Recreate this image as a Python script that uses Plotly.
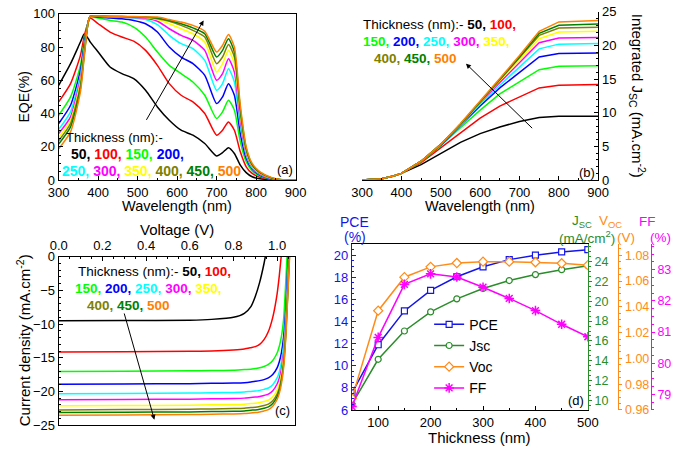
import plotly.graph_objects as go

W, H = 685, 455
FONT = "Liberation Sans, Arial, sans-serif"


def px(x):
    return x / W


def py(y):
    return 1 - y / H


thickness = [50, 100, 150, 200, 250, 300, 350, 400, 450, 500]
colors = ["#000000", "#FF0000", "#00FF00", "#0000FF", "#00FFFF",
          "#FF00FF", "#FFFF00", "#808000", "#008000", "#FF8000"]

# (a) EQE spectra
wl_a = [300, 330, 355, 365, 375, 380, 400, 430, 460, 490, 520, 550, 580, 610,
        640, 670, 700, 715, 730, 745, 760, 775, 790, 810, 840, 870, 900]
eqe_50 = [57, 70, 83, 88, 85, 83, 77, 68, 64, 61, 54, 44, 36, 30, 27, 22, 14.5, 16.5, 19.5, 16, 9, 4.5, 2, 0.8, 0.2, 0, 0]
eqe_100 = [47, 58, 75, 87, 95, 97.5, 94, 89, 86, 83.5, 78, 69, 58, 51, 47, 40, 27, 30, 35, 30, 17, 8, 4, 1.7, 0.4, 0, 0]
eqe_150 = [39, 50, 69, 84, 95.5, 98, 97.5, 96, 95, 92, 86, 77, 69, 64, 59, 51, 37, 41, 48, 42, 23, 11, 5.5, 2.4, 0.6, 0.1, 0]
eqe_200 = [34, 45, 66, 82, 95.5, 98.5, 98, 97.5, 97, 96, 94, 89, 80, 74, 70, 63, 46, 50, 58, 51, 28, 13, 6.6, 2.9, 0.7, 0.1, 0]
eqe_250 = [30.5, 41, 63, 80, 95.5, 98.5, 98.5, 98.2, 98, 97.5, 96.5, 93.5, 87, 82, 79, 72, 54, 58, 67, 59, 33, 15, 7.4, 3.3, 0.9, 0.1, 0]
eqe_300 = [28, 38, 61, 79, 95.5, 98.5, 98.5, 98.3, 98, 97.8, 97.3, 95.5, 91, 87, 84, 78, 60, 64, 73, 65, 36, 16, 8, 3.6, 1, 0.1, 0]
eqe_350 = [25.6, 36, 59, 78, 95.5, 98.5, 98.5, 98.3, 98.2, 98, 97.8, 96.5, 94, 91, 88, 83, 65, 70, 78, 70, 39, 17, 8.5, 4, 1.1, 0.1, 0]
eqe_400 = [23.7, 34, 57, 77, 95.5, 98.5, 98.5, 98.4, 98.3, 98.1, 97.9, 97, 95.5, 93, 90, 86, 70, 74, 81.5, 74, 41, 18, 9, 4.3, 1.2, 0.1, 0]
eqe_450 = [21.7, 32, 55, 76, 95.5, 98.5, 98.5, 98.4, 98.3, 98.2, 98, 97.5, 96, 94, 91.5, 88, 74, 78, 85, 77, 43, 19, 9.5, 4.6, 1.3, 0.1, 0]
eqe_500 = [18.8, 29, 53, 75, 95.5, 98.5, 98.6, 98.5, 98.4, 98.3, 98.1, 98, 96.5, 95, 93, 89.5, 77, 81, 87.5, 80, 45, 20, 10, 5, 1.5, 0.2, 0]
eqe_all = [eqe_50, eqe_100, eqe_150, eqe_200, eqe_250, eqe_300, eqe_350, eqe_400, eqe_450, eqe_500]

# (b) integrated Jsc
wl_b = [300, 350, 380, 400, 450, 500, 550, 600, 650, 700, 750, 800, 850, 900]
ij_50 = [0, 0.2, 0.6, 1.0, 2.3, 4.0, 5.6, 6.9, 7.9, 8.7, 9.3, 9.5, 9.5, 9.5]
ij_100 = [0, 0.2, 0.6, 1.0, 2.6, 4.8, 7.1, 9.2, 11.0, 12.4, 13.7, 14.1, 14.2, 14.2]
ij_150 = [0, 0.2, 0.6, 1.0, 2.7, 5.1, 7.8, 10.4, 12.8, 14.6, 16.4, 16.9, 17.0, 17.0]
ij_200 = [0, 0.2, 0.6, 1.0, 2.8, 5.2, 8.1, 11.0, 13.7, 16.0, 18.3, 18.8, 18.9, 18.9]
ij_250 = [0, 0.2, 0.6, 1.0, 2.8, 5.3, 8.2, 11.3, 14.1, 16.8, 19.5, 20.2, 20.3, 20.3]
ij_300 = [0, 0.2, 0.6, 1.0, 2.8, 5.3, 8.3, 11.5, 14.5, 17.4, 20.4, 21.1, 21.2, 21.2]
ij_350 = [0, 0.2, 0.6, 1.0, 2.8, 5.3, 8.3, 11.6, 14.8, 17.8, 21.0, 22.0, 22.1, 22.1]
ij_400 = [0, 0.2, 0.6, 1.0, 2.8, 5.3, 8.3, 11.6, 14.9, 18.1, 21.5, 22.6, 22.7, 22.7]
ij_450 = [0, 0.2, 0.6, 1.0, 2.8, 5.3, 8.3, 11.7, 15.0, 18.3, 21.8, 23.0, 23.1, 23.2]
ij_500 = [0, 0.2, 0.6, 1.0, 2.8, 5.3, 8.4, 11.7, 15.1, 18.5, 22.1, 23.5, 23.6, 23.7]
ij_all = [ij_50, ij_100, ij_150, ij_200, ij_250, ij_300, ij_350, ij_400, ij_450, ij_500]

# (c) J-V curves
volt = [0, 0.3, 0.6, 0.7, 0.8, 0.85, 0.88, 0.9, 0.92, 0.94, 0.96, 0.98,
        1.0, 1.01, 1.02, 1.03, 1.04, 1.05, 1.06]
jv_50 = [-9.5, -9.48, -9.42, -9.3, -9.0, -8.4, -7.4, -5.9, -3.8, -1.0, 2.5, None, None, None, None, None, None, None, None]
jv_100 = [-14.15, -14.12, -14.05, -14.0, -13.85, -13.7, -13.5, -13.35, -13.0, -12.3, -11.1, -9.0, -5.5, -2.8, 0.5, None, None, None, None]
jv_150 = [-17.05, -17.0, -16.95, -16.9, -16.85, -16.75, -16.7, -16.6, -16.5, -16.3, -16.0, -15.4, -14.3, -13.3, -11.8, -9.2, -3.5, 3.0, None]
jv_200 = [-18.95, -18.9, -18.85, -18.8, -18.75, -18.7, -18.6, -18.5, -18.4, -18.25, -18.0, -17.5, -16.5, -15.6, -14.2, -11.8, -7.5, -0.5, 6.0]
jv_250 = [-20.35, -20.3, -20.25, -20.2, -20.15, -20.1, -20.0, -19.95, -19.85, -19.7, -19.5, -19.0, -18.0, -17.1, -15.6, -13.2, -8.8, -2.0, 5.0]
jv_300 = [-21.25, -21.2, -21.15, -21.1, -21.05, -21.0, -20.9, -20.85, -20.75, -20.6, -20.4, -19.9, -18.9, -18.0, -16.6, -14.2, -9.7, -3.0, 4.0]
jv_350 = [-22.15, -22.1, -22.05, -22.0, -21.95, -21.9, -21.8, -21.75, -21.65, -21.5, -21.3, -20.8, -19.8, -18.9, -17.4, -15.0, -10.5, -3.8, 3.5]
jv_400 = [-22.75, -22.7, -22.65, -22.6, -22.55, -22.5, -22.4, -22.35, -22.25, -22.1, -21.9, -21.4, -20.4, -19.5, -18.0, -15.6, -11.0, -4.2, 3.0]
jv_450 = [-23.15, -23.1, -23.05, -23.0, -22.95, -22.9, -22.8, -22.75, -22.65, -22.5, -22.3, -21.8, -20.8, -19.9, -18.4, -16.0, -11.4, -4.6, 2.5]
jv_500 = [-23.55, -23.5, -23.45, -23.4, -23.35, -23.3, -23.2, -23.15, -23.05, -22.9, -22.7, -22.2, -21.2, -20.3, -18.8, -16.4, -11.8, -5.0, 2.0]
jv_all = [jv_50, jv_100, jv_150, jv_200, jv_250, jv_300, jv_350, jv_400, jv_450, jv_500]

# (d) device parameters vs thickness
pce = [7.55, 11.9, 14.96, 16.82, 18.05, 18.95, 19.6, 20.0, 20.3, 20.5]
jsc = [9.6, 14.14, 17.0, 18.93, 20.25, 21.3, 22.1, 22.7, 23.2, 23.6]
voc = [0.969, 1.037, 1.063, 1.071, 1.074, 1.075, 1.075, 1.0746, 1.0738, 1.0723]
ff = [78.61, 80.83, 82.53, 82.87, 82.77, 82.44, 82.08, 81.69, 81.25, 80.85]

C_PCE, C_JSC, C_VOC, C_FF = "#1515E8", "#2A8C2A", "#FF8C1A", "#FF00FF"

fig = go.Figure()

for i in range(10):
    fig.add_trace(go.Scatter(x=wl_a, y=eqe_all[i], mode="lines", line=dict(color=colors[i], width=1.5, shape="spline", smoothing=0.6),
                             xaxis="x", yaxis="y", showlegend=False))
    fig.add_trace(go.Scatter(x=wl_b, y=ij_all[i], mode="lines", line=dict(color=colors[i], width=1.5),
                             xaxis="x2", yaxis="y2", showlegend=False))
    fig.add_trace(go.Scatter(x=volt, y=jv_all[i], mode="lines", line=dict(color=colors[i], width=1.5, shape="spline", smoothing=0.5),
                             xaxis="x3", yaxis="y3", showlegend=False, connectgaps=False))

fig.add_trace(go.Scatter(x=thickness, y=pce, name="PCE", mode="lines+markers", xaxis="x4", yaxis="y4",
                         line=dict(color=C_PCE, width=1.5),
                         marker=dict(symbol="square", size=6, color="white", line=dict(color=C_PCE, width=1.2))))
fig.add_trace(go.Scatter(x=thickness, y=jsc, name="Jsc", mode="lines+markers", xaxis="x4", yaxis="y5",
                         line=dict(color=C_JSC, width=1.5),
                         marker=dict(symbol="circle", size=6, color="white", line=dict(color=C_JSC, width=1.2))))
fig.add_trace(go.Scatter(x=thickness, y=voc, name="Voc", mode="lines+markers", xaxis="x4", yaxis="y6",
                         line=dict(color=C_VOC, width=1.5),
                         marker=dict(symbol="diamond", size=7, color="white", line=dict(color=C_VOC, width=1.2))))
fig.add_trace(go.Scatter(x=thickness, y=ff, name="FF", mode="lines+markers", xaxis="x4", yaxis="y7",
                         line=dict(color=C_FF, width=1.5),
                         marker=dict(symbol="asterisk-open", size=8, line=dict(color=C_FF, width=1.5))))

tickfont = dict(family=FONT, size=13, color="black")


def ax(**kw):
    base = dict(showline=True, linecolor="black", linewidth=1.3, ticks="inside", ticklen=4,
                tickwidth=1, tickcolor="black", tickfont=tickfont, showgrid=False, zeroline=False)
    base.update(kw)
    return base


def colfont(c, s=12.5):
    return dict(family=FONT, size=s, color=c)


fig.update_layout(
    width=W, height=H, margin=dict(l=0, r=0, t=0, b=0),
    paper_bgcolor="white", plot_bgcolor="white",
    font=dict(family=FONT, size=13, color="black"),
    xaxis=ax(domain=[px(49.3), px(294)], anchor="y", range=[300, 900], dtick=100, mirror=True,
             minor=dict(dtick=50, ticks="inside", ticklen=2, tickcolor="black")),
    yaxis=ax(domain=[py(179), py(7)], anchor="x", range=[0, 100], dtick=20, mirror=True,
             minor=dict(dtick=5, ticks="inside", ticklen=2, tickcolor="black")),
    xaxis2=ax(domain=[px(362.7), px(606.7)], anchor="y2", range=[300, 900], dtick=100,
              minor=dict(dtick=50, ticks="inside", ticklen=2, tickcolor="black")),
    yaxis2=ax(domain=[py(179), py(5)], anchor="x2", side="right", range=[0, 25], dtick=5,
              minor=dict(dtick=1, ticks="inside", ticklen=2, tickcolor="black")),
    xaxis3=ax(domain=[px(49.3), px(293)], anchor="y3", side="top", range=[0, 1.08], dtick=0.2, tickformat=".1f",
              mirror=True, minor=dict(dtick=0.05, ticks="inside", ticklen=2, tickcolor="black")),
    yaxis3=ax(domain=[py(432.3), py(258.3)], anchor="x3", range=[-25, 0], dtick=5, mirror=True,
              minor=dict(dtick=1, ticks="inside", ticklen=2, tickcolor="black")),
    xaxis4=ax(domain=[px(352.3), px(596)], anchor="y4", range=[50, 500], tickvals=[100, 200, 300, 400, 500], mirror=True,
              minor=dict(tickvals=[150, 250, 350, 450], ticks="inside", ticklen=2, tickcolor="black")),
    yaxis4=ax(domain=[py(416.7), py(245)], anchor="x4", range=[6, 21.02], dtick=2, linecolor=C_PCE,
              tickcolor=C_PCE, tickfont=colfont(C_PCE, 13),
              minor=dict(dtick=0.5, ticks="inside", ticklen=2, tickcolor=C_PCE)),
    yaxis5=ax(overlaying="y4", anchor="x4", side="right", range=[9.02, 25.8], dtick=2, ticks="outside", ticklen=3,
              linecolor=C_JSC, tickcolor=C_JSC, tickfont=colfont(C_JSC),
              minor=dict(dtick=0.5, ticks="outside", ticklen=2, tickcolor=C_JSC)),
    yaxis6=ax(overlaying="y4", anchor="free", position=px(627.5), side="right", range=[0.96, 1.0888], dtick=0.02,
              tickformat=".2f", ticks="outside", ticklen=3, linecolor=C_VOC, tickcolor=C_VOC,
              tickfont=colfont(C_VOC),
              minor=dict(dtick=0.005, ticks="outside", ticklen=2, tickcolor=C_VOC)),
    yaxis7=ax(overlaying="y4", anchor="free", position=px(661), side="right", range=[78.5, 83.83], dtick=1,
              ticks="outside", ticklen=3, linecolor=C_FF, tickcolor=C_FF,
              tickfont=colfont(C_FF),
              minor=dict(dtick=0.25, ticks="outside", ticklen=2, tickcolor=C_FF)),
    legend=dict(x=px(432), y=py(312), xanchor="left", yanchor="top", bgcolor="rgba(0,0,0,0)",
                font=dict(family=FONT, size=14), tracegroupgap=0, itemwidth=30),
)


def span(txt, col, bold=True):
    t = "<b>%s</b>" % txt if bold else txt
    return "<span style='color:%s'>%s</span>" % (col, t)


def words(idx, last_comma=True):
    parts = []
    for n, k in enumerate(idx):
        sep = "," if (n < len(idx) - 1 or last_comma) else ""
        parts.append(span("%d%s" % (thickness[k], sep), colors[k]))
    return " ".join(parts)


ann = []


def txt(x, y, s, size=13, color="black", angle=0):
    ann.append(dict(x=px(x), y=py(y), xref="paper", yref="paper", text=s, showarrow=False,
                    xanchor="center", yanchor="middle", textangle=angle,
                    font=dict(family=FONT, size=size, color=color)))


# panel (a) texts
txt(106.5, 135, "Thickness (nm):-", 13)
txt(120, 152.5, words([0, 1, 2, 3]), 14)
txt(145, 169.5, words([4, 5, 6, 7, 8, 9], last_comma=False), 14)
txt(283, 168, "(a)", 13)
txt(171, 206, "Wavelength (nm)", 14.5)
txt(13, 93, "EQE(%)", 14, angle=-90)

# panel (b) texts
txt(443, 18, "Thickness (nm):- " + words([0, 1]), 13.5)
txt(439, 36, words([2, 3, 4, 5, 6]), 13.5)
txt(418, 53.5, words([7, 8, 9], last_comma=False), 13.5)
txt(595, 171.5, "(b)", 13)
txt(485, 206, "Wavelength (nm)", 14.5)
txt(647, 92, "Integrated J<sub>SC</sub> (mA.cm<sup>-2</sup>)", 15, angle=90)

# panel (c) texts
txt(148, 273.5, "Thickness (nm):- " + words([0, 1]), 13.5)
txt(141.5, 291, words([2, 3, 4, 5, 6]), 13.5)
txt(121, 308.5, words([7, 8, 9], last_comma=False), 13.5)
txt(280, 417.5, "(c)", 13)
txt(171, 230, "Voltage (V)", 15)
txt(13, 345, "Current density (mA.cm<sup>-2</sup>)", 15, angle=-90)

# panel (d) texts
txt(584, 406.5, "(d)", 13)
txt(484, 445, "Thickness (nm)", 15)
txt(355, 222, "PCE", 14, C_PCE)
txt(355, 238, "(%)", 14, C_PCE)
txt(590, 222, "J<sub>SC</sub>", 13.5, C_JSC)
txt(595, 238, "(mA/cm<sup>2</sup>)", 13.5, C_JSC)
txt(619, 222, "V<sub>OC</sub>", 13.5, C_VOC)
txt(635, 238, "(V)", 13.5, C_VOC)
txt(658, 222, "FF", 13.5, C_FF)
txt(671, 238, "(%)", 13.5, C_FF)

# arrows
for (xr, yr, x0, y0, x1, y1) in [("x", "y", 520, 35.3, 667, 96),
                                 ("x2", "y2", 736, 7.5, 564, 17.3),
                                 ("x3", "y3", 0.298, -8.2, 0.438, -24.2)]:
    ann.append(dict(x=x1, y=y1, ax=x0, ay=y0, xref=xr, yref=yr, axref=xr, ayref=yr, text="",
                    showarrow=True, arrowhead=2, arrowsize=1, arrowwidth=1, arrowcolor="black", standoff=0))

fig.update_layout(annotations=ann)

# the page's default body margin would push the figure 8 px off the window
fig.write_html("out.html", config={"displayModeBar": False},
               post_script="document.body.style.margin='0px';")
